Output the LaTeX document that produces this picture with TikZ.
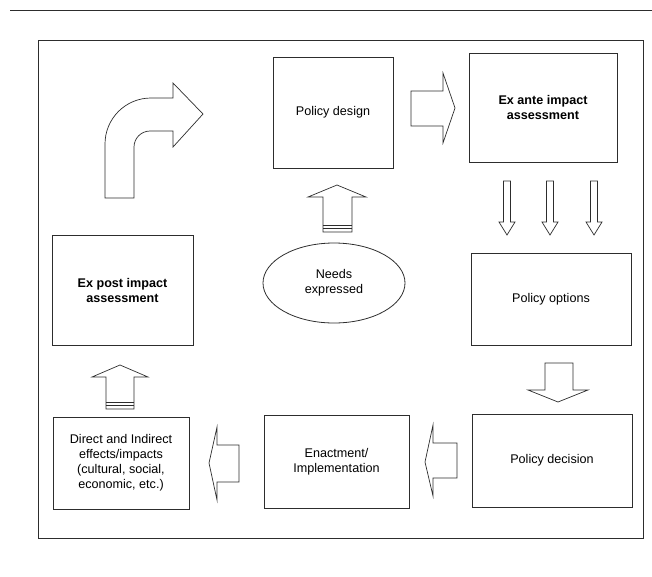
\documentclass[tikz,border=0pt]{standalone}
\usepackage{fontspec}
\setmainfont{Liberation Sans}
\usetikzlibrary{shapes.geometric}
\definecolor{lineg}{RGB}{45,45,45}

\begin{document}
\begin{tikzpicture}[x=1pt, y=-1pt,
    box/.style={draw=lineg, line width=0.8pt, rectangle, align=center, inner sep=0pt},
    blockarrow/.style={draw=lineg, line width=0.7pt, line join=miter, fill=white},
    font=\fontsize{12.6}{15}\selectfont]
    \useasboundingbox (0,0) rectangle (652,576);

    % Rule and frame
    \draw[lineg, line width=0.9pt] (10,10) -- (652,10);
    \draw[lineg, line width=0.9pt] (38,40) rectangle (643,538);

    % Boxes
    \node[box, minimum width=120, minimum height=111] (design) at (333,112.5) {Policy design};
    \node[box, minimum width=148, minimum height=109] (exante) at (543,107.5) {\textbf{Ex ante impact}\\\textbf{assessment}};
    \node[box, minimum width=160, minimum height=92] (options) at (551,299) {Policy options};
    \node[box, minimum width=160, minimum height=93] (decision) at (552,460.5) {Policy decision};
    \node[box, minimum width=145, minimum height=93] (enact) at (336.5,461.5) {Enactment/\\Implementation};
    \node[box, minimum width=136, minimum height=92] (effects) at (121,463) {Direct and Indirect\\effects/impacts\\(cultural, social,\\economic, etc.)};
    \node[box, minimum width=141, minimum height=110] (expost) at (122.5,290) {\textbf{Ex post impact}\\\textbf{assessment}};
    \node[ellipse, draw=lineg, line width=0.8pt, minimum width=142, minimum height=80, inner sep=0pt, align=center] (needs) at (334,283) {Needs\\expressed};

    % Curved arrow
    \draw[blockarrow] (105,198) -- (105,144) .. controls (105,118.6) and (125.4,98) .. (151,98)
        -- (173,98) -- (173,83) -- (203,114) -- (173,147) -- (173,131) -- (150,131)
        .. controls (141.2,131) and (134,138.2) .. (134,147) -- (134,198) -- cycle;

    % Design -> ex ante
    \draw[blockarrow] (411,91) -- (443,91) -- (443,73) -- (455,108) -- (443,143) -- (443,126) -- (411,126) -- cycle;

    % Needs -> design
    \draw[blockarrow] (323,232) -- (323,197) -- (308,197) -- (337,185) -- (366,197) -- (352,197) -- (352,232) -- cycle;
    \draw[lineg, line width=0.9pt] (323,225) -- (352,225) (323,228.5) -- (352,228.5);

    % Ex ante -> options
    \foreach \cx in {507,550,594} {
        \draw[blockarrow] (\cx-3.5,181) -- (\cx-3.5,222) -- (\cx-8,222) -- (\cx,235) -- (\cx+8,222) -- (\cx+3.5,222) -- (\cx+3.5,181) -- cycle;
    }

    % Options -> decision
    \draw[blockarrow] (545,363) -- (545,390) -- (528,390) -- (558,402) -- (588,390) -- (573,390) -- (573,363) -- cycle;

    % Decision -> enactment
    \draw[blockarrow] (457,443) -- (433,443) -- (433,425) -- (425,462) -- (433,496) -- (433,478) -- (457,478) -- cycle;

    % Enactment -> effects
    \draw[blockarrow] (239,445) -- (217,445) -- (217,427) -- (209,463) -- (217,500) -- (217,482) -- (239,482) -- cycle;

    % Effects -> ex post
    \draw[blockarrow] (106,409) -- (106,377) -- (92,377) -- (120,365) -- (148,377) -- (134,377) -- (134,409) -- cycle;
    \draw[lineg, line width=0.9pt] (106,402) -- (134,402) (106,405.5) -- (134,405.5);
\end{tikzpicture}
\end{document}
